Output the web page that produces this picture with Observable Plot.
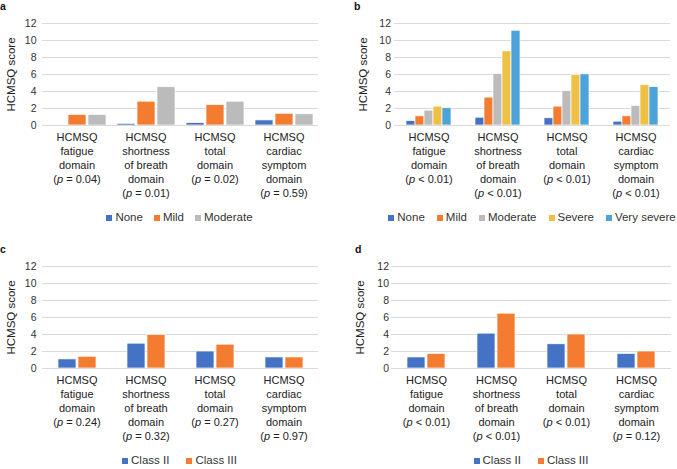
<!DOCTYPE html>
<html><head><meta charset="utf-8">
<script src="https://cdn.jsdelivr.net/npm/d3@7"></script>
<script src="https://cdn.jsdelivr.net/npm/@observablehq/plot@0.6"></script>
<style>
body{margin:0;background:#fff;}
#root{position:relative;width:677px;height:469px;background:#fff;font-family:"Liberation Sans",Arial,sans-serif;overflow:hidden;}
.panel{position:absolute;}
.panel > svg{overflow:visible;position:absolute;left:0;top:0;}
.tag{position:absolute;font-weight:bold;font-size:10.5px;line-height:1;color:#111;font-family:"Liberation Sans",Arial,sans-serif;}
.lg{position:absolute;display:flex;justify-content:center;align-items:center;height:14px;}
.lg .lgd-swatches{min-height:0 !important;margin:0 !important;flex-wrap:nowrap !important;display:flex !important;align-items:center !important;font-family:"Liberation Sans",Arial,sans-serif !important;font-size:11.5px !important;color:#333 !important;line-height:1 !important;}
.lg .lgd-swatch > svg{margin-right:3px !important;width:6px !important;height:6px !important;flex:none;}
.lg .lgd-swatch{white-space:nowrap;display:inline-flex !important;align-items:center !important;}
</style></head>
<body><div id="root"></div>
<script>
// ---- data ----
const categories = ["HCMSQ\nfatigue\ndomain", "HCMSQ\nshortness\nof breath\ndomain", "HCMSQ\ntotal\ndomain", "HCMSQ\ncardiac\nsymptom\ndomain"];
const yTicks = [0, 2, 4, 6, 8, 10, 12];

const pA = ["(p = 0.04)", "(p = 0.01)", "(p = 0.02)", "(p = 0.59)"];
const groupsA = ["None", "Mild", "Moderate"];
const aNone = [0, 0.2, 0.28, 0.6];
const aMild = [1.25, 2.8, 2.4, 1.38];
const aModerate = [1.25, 4.5, 2.8, 1.32];

const pB = ["(p < 0.01)", "(p < 0.01)", "(p < 0.01)", "(p < 0.01)"];
const groupsB = ["None", "Mild", "Moderate", "Severe", "Very severe"];
const bNone = [0.52, 0.92, 0.85, 0.45];
const bMild = [1.08, 3.28, 2.22, 1.08];
const bModerate = [1.75, 6.05, 4.05, 2.3];
const bSevere = [2.22, 8.72, 5.96, 4.74];
const bVerySevere = [2.03, 11.15, 6.02, 4.52];

const pC = ["(p = 0.24)", "(p = 0.32)", "(p = 0.27)", "(p = 0.97)"];
const groupsC = ["Class II", "Class III"];
const cClassII = [1.07, 2.92, 2.0, 1.3];
const cClassIII = [1.38, 3.95, 2.8, 1.3];

const pD = ["(p < 0.01)", "(p < 0.01)", "(p < 0.01)", "(p = 0.12)"];
const groupsD = ["Class II", "Class III"];
const dClassII = [1.3, 4.1, 2.85, 1.72];
const dClassIII = [1.72, 6.45, 4.0, 2.0];

const colors5 = ["#4472C4", "#F47C30", "#BBBBBB", "#EEC044", "#4BA3DA"];
const colors2 = ["#4472C4", "#F47C30"];

// ---- layout ----
const panels = [
  {tag: "a", left: 0, top: 0, width: 338, mL: 40, mR: 19, tickPad: 6, tagX: 0, pi: 0.12, po: 0.26, gap: 11,
   pvals: pA, groups: groupsA, colors: colors5.slice(0, 3), series: [aNone, aMild, aModerate]},
  {tag: "b", left: 338, top: 0, width: 339, mL: 55, mR: 6, tickPad: 3.5, tagX: 16, pi: 0.05, po: 1.1, gap: 12,
   pvals: pB, groups: groupsB, colors: colors5, series: [bNone, bMild, bModerate, bSevere, bVerySevere]},
  {tag: "c", left: 0, top: 243, width: 338, mL: 40, mR: 19, tickPad: 6, tagX: 0, pi: 0.1, po: 0.77, gap: 17,
   pvals: pC, groups: groupsC, colors: colors2, series: [cClassII, cClassIII]},
  {tag: "d", left: 338, top: 243, width: 339, mL: 53, mR: 6, tickPad: 2.5, tagX: 17, pi: 0.1, po: 0.77, gap: 17,
   pvals: pD, groups: groupsD, colors: colors2, series: [dClassII, dClassIII]}
];

const root = document.getElementById("root");
const FONT = '"Liberation Sans", Arial, sans-serif';

for (const cfg of panels) {
  const labels = categories.map((c, i) => c + "\n" + cfg.pvals[i]);
  const rows = [];
  labels.forEach((lab, i) => cfg.groups.forEach((g, j) => rows.push({cat: lab, group: g, value: cfg.series[j][i]})));

  const div = document.createElement("div");
  div.className = "panel";
  div.style.left = cfg.left + "px";
  div.style.top = cfg.top + "px";
  div.style.width = cfg.width + "px";
  div.style.height = "226px";
  root.appendChild(div);

  const tag = document.createElement("div");
  tag.className = "tag";
  tag.textContent = cfg.tag;
  tag.style.left = cfg.tagX + "px";
  tag.style.top = "1px";
  div.appendChild(tag);

  const svg = Plot.plot({
    width: cfg.width,
    height: 205,
    marginLeft: cfg.mL,
    marginRight: cfg.mR,
    marginTop: 23,
    marginBottom: 80,
    style: {fontFamily: FONT, color: "#333", background: "transparent", overflow: "visible"},
    fx: {domain: labels, padding: 0, label: null},
    x: {domain: cfg.groups, paddingInner: cfg.pi, paddingOuter: cfg.po, axis: null},
    y: {domain: [0, 12], label: null},
    color: {domain: cfg.groups, range: cfg.colors},
    marks: [
      Plot.gridY(yTicks, {stroke: "#d9d9d9", strokeOpacity: 1, strokeWidth: 1}),
      Plot.axisY(yTicks, {tickSize: 0, tickPadding: cfg.tickPad, fontSize: 10.5, fill: "#333", label: null}),
      Plot.axisY([], {tickSize: 0, label: "HCMSQ score", labelAnchor: "center", labelArrow: "none", labelOffset: 36, fontSize: 11.5, fill: "#222"}),
      Plot.axisFx({anchor: "bottom", tickSize: 0, tickPadding: 6, lineHeight: 1.27, fontSize: 11, fill: "#222", label: null}),
      Plot.barY(rows, {fx: "cat", x: "group", y: "value", fill: "group", stroke: "white", strokeWidth: 0.7}),
      Plot.ruleY([0], {stroke: "#d9d9d9"})
    ]
  });
  // italic p in the p-value lines
  svg.querySelectorAll("tspan").forEach(ts => {
    const t = ts.textContent;
    if (t.startsWith("(p")) {
      ts.textContent = "";
      ts.appendChild(document.createTextNode("("));
      const it = document.createElementNS("http://www.w3.org/2000/svg", "tspan");
      it.setAttribute("font-style", "italic");
      it.textContent = "p";
      ts.appendChild(it);
      ts.appendChild(document.createTextNode(t.slice(2)));
    }
  });
  div.appendChild(svg);

  const plotW = cfg.width - cfg.mL - cfg.mR;
  const lgWrap = document.createElement("div");
  lgWrap.className = "lg";
  lgWrap.style.left = (cfg.mL - 60) + "px";
  lgWrap.style.width = (plotW + 120) + "px";
  lgWrap.style.top = "211px";
  const lg = Plot.legend({
    color: {domain: cfg.groups, range: cfg.colors},
    legend: "swatches", swatchSize: 6, className: "lgd",
    style: {fontFamily: FONT, fontSize: "11.5px", color: "#333"}
  });
  lg.querySelectorAll(".lgd-swatch").forEach((s, i, arr) => {
    s.style.setProperty("margin-right", (i === arr.length - 1 ? 0 : cfg.gap) + "px", "important");
  });
  lgWrap.appendChild(lg);
  div.appendChild(lgWrap);
}
</script>
</body></html>
